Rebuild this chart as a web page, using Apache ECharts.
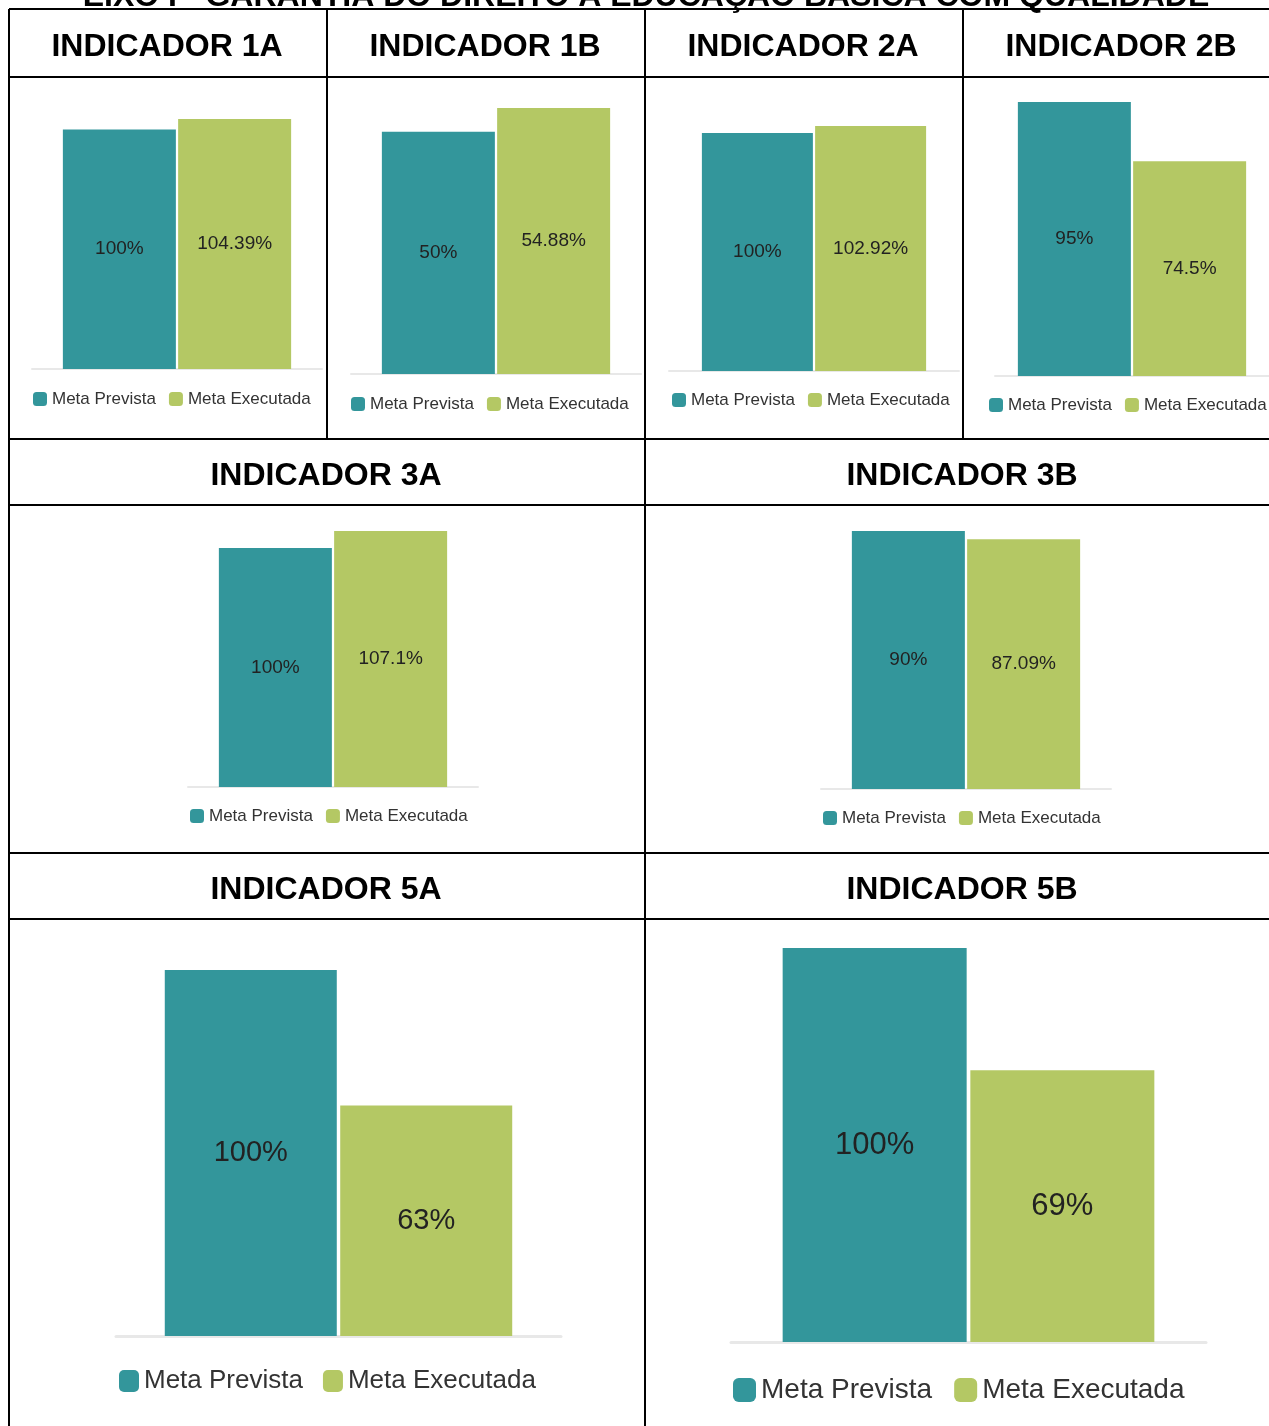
<!DOCTYPE html>
<html>
<head>
<meta charset="utf-8">
<title>Eixo I - Indicadores</title>
<script src="https://cdn.jsdelivr.net/npm/echarts@6/dist/echarts.min.js"></script>
<style>
  body { margin: 0; background: #fff; }
  #main { width: 1269px; height: 1426px; }
</style>
</head>
<body>
<div id="main"></div>
<script>
// dados
const pageTitle = 'EIXO I - GARANTIA DO DIREITO À EDUCAÇÃO BÁSICA COM QUALIDADE'
const indicadores = ['INDICADOR 1A', 'INDICADOR 1B', 'INDICADOR 2A', 'INDICADOR 2B', 'INDICADOR 3A', 'INDICADOR 3B', 'INDICADOR 5A', 'INDICADOR 5B']
const seriesNames = ['Meta Prevista', 'Meta Executada']
const metaPrevista = [100, 50, 100, 95, 100, 90, 100, 100]
const metaExecutada = [104.39, 54.88, 102.92, 74.5, 107.1, 87.09, 63, 69]

// posicao de cada grafico dentro da tabela (px)
const cells = [
  { grid: [32, 119, 290, 250], bar: 113, label: 19, lg: [33, 399], font: 17, icon: [14, 14], gap: 13, lh: 20, axisW: 2, tick: 6 },
  { grid: [351, 108, 290, 266], bar: 113, label: 19, lg: [351, 404], font: 17, icon: [14, 14], gap: 13, lh: 20, axisW: 2, tick: 6 },
  { grid: [669, 126, 290, 245], bar: 111, label: 19, lg: [672, 400], font: 17, icon: [14, 14], gap: 13, lh: 20, axisW: 2, tick: 6 },
  { grid: [995, 102, 274, 274], bar: 113, label: 19, lg: [989, 405], font: 17, icon: [14, 14], gap: 13, lh: 20, axisW: 2, tick: 6 },
  { grid: [188, 531, 290, 256], bar: 113, label: 19, lg: [190, 816], font: 17, icon: [14, 14], gap: 13, lh: 20, axisW: 2, tick: 6 },
  { grid: [821, 531, 290, 258], bar: 113, label: 19, lg: [823, 818], font: 17, icon: [14, 14], gap: 13, lh: 20, axisW: 2, tick: 6 },
  { grid: [116, 970, 445, 366], bar: 172, label: 29, lg: [119, 1381], font: 26, icon: [20, 22], gap: 20, lh: 30, axisW: 3, tick: 9 },
  { grid: [731, 948, 475, 394], bar: 184, label: 31, lg: [733, 1390], font: 28, icon: [23, 24], gap: 22, lh: 32, axisW: 3, tick: 10 }
]
const titlePos = [[167, 47], [485, 47], [803, 47], [1121, 47], [326, 476], [962, 476], [326, 890], [962, 890]]
const colors = ['#33969b', '#b4c864']
const fontFamily = '"Liberation Sans", Arial, sans-serif'

const chart = echarts.init(document.getElementById('main'), null, { renderer: 'canvas' })

const grids = [], xAxes = [], yAxes = [], legends = [], series = []
cells.forEach((c, i) => {
  grids.push({ left: c.grid[0], top: c.grid[1], width: c.grid[2], height: c.grid[3] })
  xAxes.push({
    type: 'category',
    gridIndex: i,
    data: [''],
    axisLabel: { show: false },
    axisLine: { lineStyle: { color: '#e8e8e8', width: c.axisW } },
    axisTick: { alignWithLabel: true, length: c.tick, lineStyle: { color: '#e8e8e8', width: c.axisW } }
  })
  yAxes.push({
    type: 'value',
    gridIndex: i,
    show: false,
    min: 0,
    max: Math.max(metaPrevista[i], metaExecutada[i]),
    splitLine: { show: false }
  })
  legends.push({
    data: seriesNames,
    left: c.lg[0],
    top: c.lg[1] - c.lh / 2,
    padding: 0,
    icon: 'roundRect',
    itemWidth: c.icon[0],
    itemHeight: c.icon[1],
    itemGap: c.gap,
    textStyle: { fontSize: c.font, color: '#333', fontFamily: fontFamily, lineHeight: c.lh }
  })
  const values = [metaPrevista[i], metaExecutada[i]]
  seriesNames.forEach((name, k) => {
    series.push({
      name: name,
      type: 'bar',
      xAxisIndex: i,
      yAxisIndex: i,
      barWidth: c.bar,
      barGap: '2%',
      data: [values[k]],
      itemStyle: { color: colors[k] },
      label: {
        show: true,
        position: 'inside',
        formatter: (p) => p.value + '%',
        fontSize: c.label,
        color: '#222',
        fontFamily: fontFamily
      },
      silent: true
    })
  })
})

// linhas da tabela
const black = { stroke: '#000', lineWidth: 2 }
const lines = [
  [9, 9, 1269, 9], [9, 77, 1269, 77], [9, 439, 1269, 439],
  [9, 505, 1269, 505], [9, 853, 1269, 853], [9, 919, 1269, 919],
  [9, 9, 9, 1426], [645, 9, 645, 1426], [327, 9, 327, 439], [963, 9, 963, 439]
]
const graphics = lines.map((l) => ({
  type: 'line',
  shape: { x1: l[0], y1: l[1], x2: l[2], y2: l[3] },
  style: black,
  silent: true
}))
indicadores.forEach((t, i) => {
  graphics.push({
    type: 'text',
    x: titlePos[i][0],
    y: titlePos[i][1],
    style: { text: t, font: 'bold 32px ' + fontFamily, fill: '#000', align: 'center', verticalAlign: 'middle' }
  })
})
// titulo cortado no topo
graphics.push({
  type: 'text',
  x: 646,
  y: -3,
  style: { text: pageTitle, font: 'bold 32px ' + fontFamily, fill: '#000', align: 'center', verticalAlign: 'middle' }
})

chart.setOption({
  animation: false,
  grid: grids,
  xAxis: xAxes,
  yAxis: yAxes,
  legend: legends,
  series: series,
  graphic: graphics
})
</script>
</body>
</html>
